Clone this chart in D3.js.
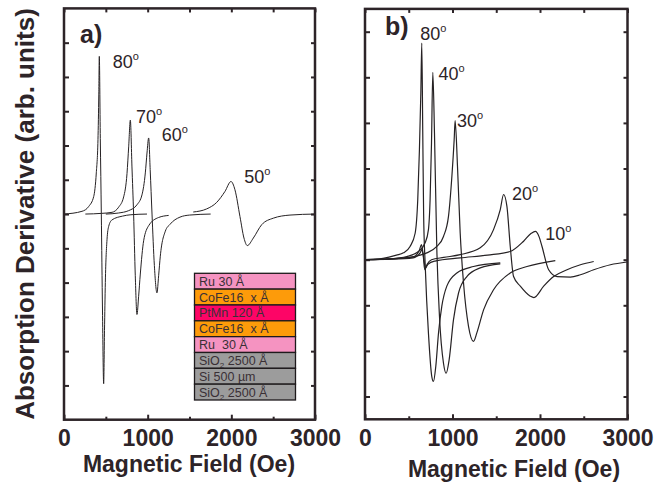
<!DOCTYPE html>
<html>
<head>
<meta charset="utf-8">
<script src="https://cdn.jsdelivr.net/npm/d3@7"></script>
<style>
body { margin: 0; background: #fff; }
svg { display: block; font-family: "Liberation Sans", Arial, sans-serif; }
.layer text { white-space: pre; }
</style>
</head>
<body>
<script>
// panel a : field (Oe), derivative (arb.)
let a80 = [[0,0],[215,0.08],[295,0.22],[355,0.51],[386,1.2],[406,2.17],[416,3.5],[422,4.6],[434,2.2],[446,0],[460,-2.8],[474,-4.95],[484,-3.4],[494,-2.0],[514,-0.75],[534,-0.36],[574,-0.17],[700,-0.06],[800,-0.02],[992,0]];
let a70 = [[255,0],[450,0.02],[574,0.05],[653,0.2],[713,0.5],[753,1.18],[773,1.96],[793,2.74],[812,1.4],[832,0],[852,-1.8],[872,-2.93],[892,-2.4],[912,-1.75],[952,-0.78],[1012,-0.34],[1131,-0.1],[1251,-0.04]];
let a60 = [[500,0],[650,0.03],[773,0.1],[872,0.27],[932,0.56],[972,1.2],[992,1.78],[1012,2.22],[1030,1.3],[1052,0],[1080,-1.5],[1111,-2.3],[1131,-1.8],[1151,-1.23],[1211,-0.5],[1267,-0.3],[1386,-0.09],[1500,-0.03],[1753,0]];
let a50 = [[1545,0.06],[1705,0.15],[1825,0.34],[1924,0.66],[1996,0.95],[2043,0.71],[2103,-0.07],[2151,-0.7],[2191,-0.92],[2263,-0.7],[2363,-0.31],[2502,-0.12],[2701,-0.03],[3000,0]];

// panel b
let b80 = [[0,0],[206,0.03],[359,0.1],[439,0.15],[515,0.29],[573,0.58],[603,1.32],[622,2.41],[638,3.65],[649,4.75],[660,2.8],[670,1.0],[687,-0.07],[705,-0.9],[725,-1.61],[763,-2.56],[782,-2.67],[809,-2.34],[840,-1.61],[878,-1.02],[935,-0.58],[1050,-0.29],[1240,-0.15],[1546,-0.07]];
let b40 = [[0,0],[286,0.02],[477,0.07],[611,0.18],[687,0.37],[725,0.66],[744,1.32],[760,2.56],[775,4.11],[794,2.78],[821,0.22],[851,-1.24],[897,-2.27],[927,-2.49],[962,-2.19],[1011,-1.32],[1069,-0.73],[1164,-0.37],[1317,-0.18],[1546,-0.09]];
let b30 = [[0,0],[477,0.04],[630,0.1],[706,0.15],[821,0.29],[897,0.51],[954,0.95],[993,1.83],[1019,2.63],[1030,3.05],[1057,2.05],[1088,0.58],[1126,-0.51],[1183,-1.46],[1240,-1.79],[1279,-1.6],[1355,-1.1],[1469,-0.66],[1660,-0.29],[1851,-0.15],[2175,-0.02]];
let b20 = [[0,0],[300,0.02],[550,0.06],[620,0.2],[645,0.33],[665,0.1],[683,-0.22],[710,-0.1],[760,0.0],[900,0.05],[1088,0.11],[1317,0.26],[1469,0.66],[1546,1.1],[1584,1.43],[1622,1.17],[1660,0.29],[1698,-0.37],[1775,-0.58],[1889,-0.8],[1930,-0.83],[2042,-0.58],[2156,-0.37],[2309,-0.22],[2462,-0.11],[2614,-0.04]];
let b10 = [[0,0],[300,0.01],[550,0.04],[630,0.15],[650,0.22],[670,0.05],[690,-0.18],[720,-0.1],[800,-0.03],[1088,0.04],[1400,0.1],[1660,0.18],[1810,0.4],[1900,0.58],[1947,0.62],[1990,0.5],[2023,0.29],[2099,-0.22],[2195,-0.37],[2347,-0.38],[2462,-0.33],[2614,-0.22],[2805,-0.11],[2996,-0.05]];

// angle labels: text, field, value (where the label sits)
let labelsA = [["80",582,4.27],["70",860,2.67],["60",1168,2.12],["50",2155,0.9]];
let labelsB = [["80",630,4.82],["40",839,3.95],["30",1050,2.92],["20",1680,1.32],["10",2061,0.44]];

let xTicks = [0,1000,2000,3000];
let xMinor = [500,1500,2500];

// sample stack
let layerNames = ["Ru 30 Å","CoFe16  x Å","PtMn 120 Å","CoFe16  x Å","Ru  30 Å","SiO|2| 2500 Å","Si 500 µm","SiO|2| 2500 Å"];
let layerColors = ["#f593c1","#fd9b0a","#fd0566","#fd9b0a","#f593c1","#9c9c9c","#9c9c9c","#9c9c9c"];

const W = 665, H = 485;
const ink = "#2d2428";
const svg = d3.select("body").append("svg").attr("width", W).attr("height", H);

const panels = [
	{ x: d3.scaleLinear([0,3000],[64,315]), y: d3.scaleLinear([-6,6],[419.7,8.4]), yt: d3.range(-5,6),
	  curves: [a80,a70,a60,a50], labels: labelsA, tag: "a)", tagPos: [80,43], sw: 1 },
	{ x: d3.scaleLinear([0,3000],[365,627.5]), y: d3.scaleLinear([-3.5,5.5],[419.3,8.9]), yt: d3.range(-3,6),
	  curves: [b80,b40,b30,b20,b10], labels: labelsB, tag: "b)", tagPos: [385,35], sw: 1.2 }
];

panels.forEach((p, k) => {
	let g = svg.append("g");
	let [x0, x1] = p.x.range(), [y0, y1] = p.y.range();

	// curves
	let line = d3.line().x(d => p.x(d[0])).y(d => p.y(d[1])).curve(d3.curveMonotoneX);
	g.selectAll(".curve").data(p.curves).enter().append("path").attr("class","curve")
		.attr("d", line).attr("fill","none").attr("stroke","#262224").attr("stroke-width", p.sw);

	// ticks, all inward
	let bot = g.append("g").attr("transform", `translate(0,${y0})`)
		.call(d3.axisBottom(p.x).tickValues(xTicks).tickSize(-5).tickPadding(0).tickFormat(d3.format("d")));
	bot.selectAll("text").attr("y", 26.5).attr("dy", 0).attr("font-size", 23).attr("font-weight","bold")
		.attr("font-family", "Liberation Sans, Arial, sans-serif").attr("fill", ink);
	g.append("g").attr("transform", `translate(0,${y0})`)
		.call(d3.axisBottom(p.x).tickValues(xMinor).tickSize(-3).tickFormat(""));
	g.append("g").attr("transform", `translate(0,${y1})`)
		.call(d3.axisTop(p.x).tickValues(xTicks.concat(xMinor)).tickSize(-4).tickFormat(""));
	g.append("g").attr("transform", `translate(${x0},0)`)
		.call(d3.axisLeft(p.y).tickValues(p.yt).tickSize(-5).tickFormat(""));
	g.append("g").attr("transform", `translate(${x1},0)`)
		.call(d3.axisRight(p.y).tickValues(p.yt).tickSize(-4).tickFormat(""));
	g.selectAll(".domain").remove();
	g.selectAll(".tick line").attr("stroke", ink).attr("stroke-width", 2);

	g.append("rect").attr("x", x0).attr("y", y1).attr("width", x1 - x0).attr("height", y0 - y1)
		.attr("fill","none").attr("stroke", ink).attr("stroke-width", 2.5);

	// angle labels
	let lab = g.selectAll(".ang").data(p.labels).enter().append("text").attr("class","ang")
		.attr("x", d => p.x(d[1])).attr("y", d => p.y(d[2]))
		.attr("font-size", 18).attr("fill", ink);
	lab.append("tspan").text(d => d[0]);
	lab.append("tspan").text("o").attr("font-size", 11).attr("dy", -8);

	g.append("text").attr("x", p.tagPos[0]).attr("y", p.tagPos[1]).text(p.tag)
		.attr("font-size", 25).attr("font-weight","bold").attr("fill", ink);
});

// axis titles
svg.append("text").attr("x", 189).attr("y", 472).attr("text-anchor","middle")
	.attr("font-size", 23).attr("font-weight","bold").attr("fill", ink).text("Magnetic Field (Oe)");
svg.append("text").attr("x", 514).attr("y", 477).attr("text-anchor","middle")
	.attr("font-size", 23).attr("font-weight","bold").attr("fill", ink).text("Magnetic Field (Oe)");
svg.append("text").attr("transform","translate(34,214) rotate(-90)").attr("text-anchor","middle")
	.attr("font-size", 26).attr("font-weight","bold").attr("fill", ink).text("Absorption Derivative (arb. units)");

// layer stack
let ly = d3.scaleBand().domain(d3.range(layerNames.length)).range([273.3, 400]);
let stack = svg.append("g");
let rows = stack.selectAll(".layer").data(layerNames).enter().append("g").attr("class","layer");
rows.append("rect").attr("x", 194.5).attr("y", (d,i) => ly(i)).attr("width", 101).attr("height", ly.bandwidth())
	.attr("fill", (d,i) => layerColors[i]).attr("stroke", "#1e1a1c").attr("stroke-width", 1.3);
let rt = rows.append("text").attr("x", 199).attr("y", (d,i) => ly(i) + ly.bandwidth() / 2 + 4.5)
	.attr("font-size", 12.5).attr("fill", "#3a3036");
rt.each(function(d) {
	let parts = d.split("|");
	let t = d3.select(this);
	t.append("tspan").text(parts[0]);
	if (parts.length > 1) {
		t.append("tspan").text(parts[1]).attr("font-size", 8).attr("dy", 3);
		t.append("tspan").text(parts[2]).attr("dy", -3);
	}
});
</script>
</body>
</html>
